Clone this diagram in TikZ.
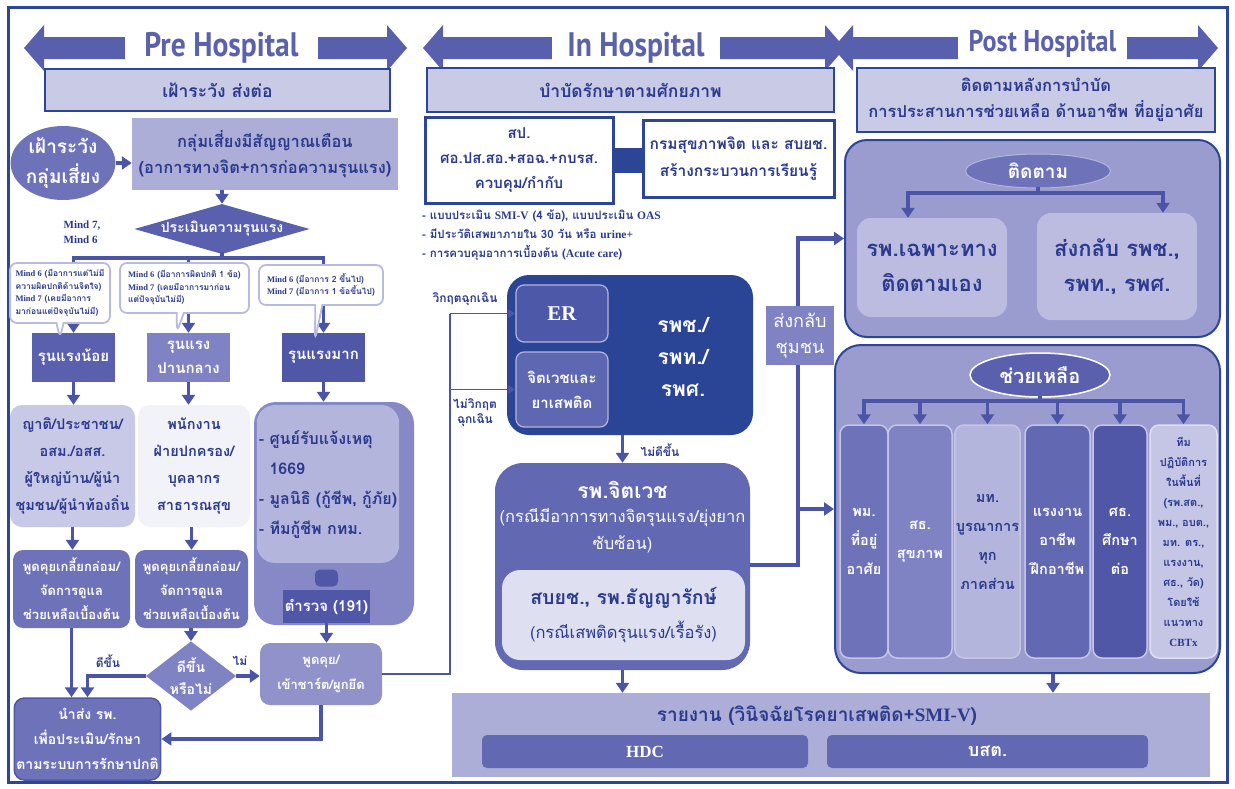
\documentclass[tikz,border=0pt]{standalone}
\usepackage{fontspec}
\setmainfont[Script=Thai]{Loma}
\newfontfamily\serifLat{Liberation Serif}
\newfontfamily\titlefont[FakeStretch=0.87]{PT Sans}
\usetikzlibrary{shapes.geometric, shapes.callouts, arrows.meta, positioning}
\newcommand\latw[1]{{\serifLat\bfseries #1}}

\definecolor{navy}{HTML}{2C4597}
\definecolor{navyDk}{HTML}{2A4496}
\definecolor{arrBlue}{HTML}{4B55A7}
\definecolor{hdrBlue}{HTML}{5860AD}
\definecolor{titleBlue}{HTML}{5C62AA}
\definecolor{txtNavy}{HTML}{2B3A8E}
\definecolor{barLav}{HTML}{C9CAE6}
\definecolor{lavA}{HTML}{ADAED7}
\definecolor{lavB}{HTML}{C8C9E6}
\definecolor{lavC}{HTML}{B4B5DC}
\definecolor{lavD}{HTML}{BBBCE0}
\definecolor{lavE}{HTML}{C5C6E5}
\definecolor{paleLav}{HTML}{F2F2F9}
\definecolor{paleB}{HTML}{DEDFF1}
\definecolor{purpA}{HTML}{5A60AE}
\definecolor{purpA2}{HTML}{6268B1}
\definecolor{purpB}{HTML}{8083C3}
\definecolor{purpC}{HTML}{6E72B8}
\definecolor{purpD}{HTML}{5057A6}
\definecolor{purpE}{HTML}{8788C6}
\definecolor{purpF}{HTML}{9192CA}
\definecolor{postLav}{HTML}{9A9BCE}
\definecolor{bubLav}{HTML}{B9BADF}
\definecolor{erBlue}{HTML}{4D58A8}
\definecolor{psyBlue}{HTML}{5E67B1}

\tikzset{
    box/.style={rectangle, align=center, inner sep=2pt},
    rbox/.style={box, rounded corners=8pt},
    title/.style={fill=white, text=titleBlue, inner sep=0pt, font=\titlefont\bfseries\fontsize{34}{34}\selectfont},
    bar/.style={box, draw=navy, line width=2pt, fill=barLav, text=txtNavy, font=\bfseries\fontsize{17.5}{26}\selectfont},
    arr/.style={line width=3.5pt, draw=arrBlue, -{Triangle[length=10pt,width=13pt]}},
    thinarr/.style={line width=1.8pt, draw=arrBlue, -{Triangle[length=7pt,width=8pt]}},
    thinln/.style={line width=1.8pt, draw=arrBlue},
    trunk/.style={line width=3.5pt, draw=arrBlue, line cap=rect},
    lbl/.style={text=txtNavy, inner sep=1pt, align=center, font=\bfseries\fontsize{12}{15}\selectfont},
    bubble/.style={rectangle callout, rounded corners=7pt, draw=bubLav, line width=1.8pt, fill=white,
        align=left, text=txtNavy, inner sep=2pt, font=\bfseries\fontsize{8.5}{12.5}\selectfont},
    col/.style={rbox, rounded corners=9pt, draw=lavE, line width=1.5pt, minimum height=233pt, inner sep=1pt,
        font=\bfseries\fontsize{14.5}{29}\selectfont}
}

\begin{document}
\begin{tikzpicture}[x=1pt, y=-1pt]
    \useasboundingbox (0,0) rectangle (1235,788);
    \draw[navy, line width=3pt] (8,7) rectangle (1227,782); % frame

    % header arrows and titles
    \foreach \a/\b in {24/407, 423/845, 833/1218}
        \fill[hdrBlue] (\a,48) -- (\a+20,25) -- (\a+20,37) -- (\b-20,37) -- (\b-20,25) -- (\b,48)
            -- (\b-20,71) -- (\b-20,59) -- (\a+20,59) -- (\a+20,71) -- cycle;
    \node[title, minimum width=193pt, minimum height=54pt, text depth=0pt] (tPre) at (221.5,44) {Pre Hospital};
    \node[title, minimum width=168pt, minimum height=54pt, text depth=0pt] (tIn) at (636,44) {In Hospital};
    \node[title, minimum width=169pt, minimum height=54pt, text depth=0pt,
        font=\titlefont\bfseries\fontsize{30}{30}\selectfont] (tPost) at (1042.5,41) {Post Hospital};

    \node[bar, minimum width=345pt, minimum height=42pt] (barPre) at (217.5,90) {เฝ้าระวัง ส่งต่อ};
    \node[bar, minimum width=407pt, minimum height=44pt] (barIn) at (630.5,90) {บำบัดรักษาตามศักยภาพ};
    \node[bar, minimum width=358pt, minimum height=64pt, font=\bfseries\fontsize{16.5}{26}\selectfont] (barPost) at (1036,100)
        {ติดตามหลังการบำบัด\\การประสานการช่วยเหลือ ด้านอาชีพ ที่อยู่อาศัย};

    % ---------------- Pre Hospital ----------------
    \node[ellipse, fill=purpC, text=white, minimum width=100pt, minimum height=74pt, inner sep=0pt, align=center,
        font=\bfseries\fontsize{19}{30}\selectfont] (ellRisk) at (63,163) {เฝ้าระวัง\\กลุ่มเสี่ยง};
    \node[box, fill=lavA, text=txtNavy, minimum width=266pt, minimum height=72pt,
        font=\bfseries\fontsize{16.5}{26}\selectfont] (boxWarn) at (265,154) {กลุ่มเสี่ยงมีสัญญาณเตือน\\(อาการทางจิต+การก่อความรุนแรง)};
    \draw[arr] (ellRisk.east) -- (ellRisk.east -| boxWarn.west);

    \node[diamond, aspect=3.5, fill=purpA, text=white, minimum width=170pt, minimum height=48pt, inner sep=0pt,
        font=\bfseries\fontsize{14}{18}\selectfont] (diaSev) at (222,229) {ประเมินความรุนแรง};
    \draw[arr] (diaSev.north |- boxWarn.south) -- (diaSev.north);
    \node[lbl, align=left, font=\serifLat\bfseries\fontsize{11}{15}\selectfont] (lblMind) at (82,232) {Mind 7,\\Mind 6};

    \node[box, fill=purpA, text=white, minimum width=83pt, minimum height=49pt,
        font=\bfseries\fontsize{15}{24}\selectfont] (sevLow) at (73.5,357.5) {รุนแรงน้อย};
    \node[box, fill=purpB, text=white, minimum width=83pt, minimum height=49pt,
        font=\bfseries\fontsize{15}{24}\selectfont] (sevMid) at (188.5,357.5) {รุนแรง\\ปานกลาง};
    \node[box, fill=purpD, text=white, minimum width=83pt, minimum height=49pt,
        font=\bfseries\fontsize{15}{24}\selectfont] (sevHigh) at (323.5,357.5) {รุนแรงมาก};

    \coordinate (brSev) at (222,258);
    \draw[trunk] (diaSev.south) -- (brSev);
    \draw[trunk] (sevLow.north |- brSev) -- (sevHigh.north |- brSev);
    \foreach \s in {sevLow, sevMid, sevHigh}
        \draw[arr] (\s.north |- brSev) -- (\s.north);

    % callouts over the arrows
    \node[bubble, minimum width=100pt, minimum height=60pt, callout absolute pointer={(60,338)}] (bubLow) at (60,293)
        {\latw{Mind 6} (มีอาการแต่ไม่มี\\ความผิดปกติด้านจิตใจ)\\\latw{Mind 7} (เคยมีอาการ\\มาก่อนแต่ปัจจุบันไม่มี)};
    \node[bubble, minimum width=129pt, minimum height=50pt, callout absolute pointer={(177,332)}] (bubMid) at (184.5,288)
        {\latw{Mind 6} (มีอาการผิดปกติ 1 ข้อ)\\\latw{Mind 7} (เคยมีอาการมาก่อน\\แต่ปัจจุบันไม่มี)};
    \node[bubble, minimum width=124pt, minimum height=40pt, callout absolute pointer={(315,340)}] (bubHigh) at (321,285)
        {\latw{Mind 6} (มีอาการ 2 ขึ้นไป)\\\latw{Mind 7} (มีอาการ 1 ข้อขึ้นไป)};

    \node[rbox, rounded corners=12pt, fill=lavB, text=txtNavy, minimum width=125pt, minimum height=122pt,
        font=\bfseries\fontsize{14.5}{27}\selectfont] (grpFam) at (72.5,466) {ญาติ/ประชาชน/\\อสม./อสส.\\ผู้ใหญ่บ้าน/ผู้นำ\\ชุมชน/ผู้นำท้องถิ่น};
    \node[rbox, rounded corners=12pt, fill=paleLav, text=txtNavy, minimum width=112pt, minimum height=122pt,
        font=\bfseries\fontsize{14.5}{27}\selectfont] (grpStaff) at (194,466) {พนักงาน\\ฝ่ายปกครอง/\\บุคลากร\\สาธารณสุข};
    \node[rbox, rounded corners=22pt, fill=purpE, minimum width=160pt, minimum height=223pt] (rescue) at (334,513.5) {};
    \node[rbox, rounded corners=18pt, fill=lavC, text=txtNavy, minimum width=140pt, minimum height=158pt, align=left,
        font=\bfseries\fontsize{16}{30}\selectfont] (rescueIn) at (328,484) {- ศูนย์รับแจ้งเหตุ\\\phantom{- }1669\\- มูลนิธิ (กู้ชีพ, กู้ภัย)\\- ทีมกู้ชีพ กทม.};
    \node[rbox, rounded corners=5pt, fill=purpD, minimum width=23pt, minimum height=17pt] (plug) at (326.5,578) {};
    \node[box, fill=purpD, text=white, minimum width=87pt, minimum height=33pt,
        font=\bfseries\fontsize{15}{18}\selectfont] (police) at (326.5,606.5) {ตำรวจ (191)};

    \draw[arr] (sevLow.south) -- (sevLow.south |- grpFam.north);
    \draw[arr] (sevMid.south) -- (sevMid.south |- grpStaff.north);
    \draw[arr] (sevHigh.south) -- (sevHigh.south |- rescue.north);

    \node[rbox, rounded corners=10pt, fill=purpC, text=white, minimum width=117pt, minimum height=78pt,
        font=\bfseries\fontsize{13}{24}\selectfont] (talkFam) at (71.5,589) {พูดคุยเกลี้ยกล่อม/\\จัดการดูแล\\ช่วยเหลือเบื้องต้น};
    \node[rbox, rounded corners=10pt, fill=purpC, text=white, minimum width=113pt, minimum height=78pt,
        font=\bfseries\fontsize{13}{24}\selectfont] (talkStaff) at (191.5,589) {พูดคุยเกลี้ยกล่อม/\\จัดการดูแล\\ช่วยเหลือเบื้องต้น};
    \draw[arr] (grpFam.south) -- (grpFam.south |- talkFam.north);
    \draw[arr] (talkStaff.north |- grpStaff.south) -- (talkStaff.north);

    \node[diamond, aspect=1.3, fill=purpB, text=white, minimum width=88pt, minimum height=67pt, inner sep=0pt, align=center,
        font=\bfseries\fontsize{14}{22}\selectfont] (diaBetter) at (191,676) {ดีขึ้น\\หรือไม่};
    \draw[arr] (diaBetter.north |- talkStaff.south) -- (diaBetter.north);
    \node[rbox, rounded corners=10pt, fill=purpF, text=white, minimum width=122pt, minimum height=62pt,
        font=\bfseries\fontsize{13}{25}\selectfont] (restrain) at (321,674) {พูดคุย/\\เข้าชาร์ต/ผูกยึด};
    \draw[arr] (police.south) -- (police.south |- restrain.north);
    \node[rbox, rounded corners=10pt, fill=purpC, draw=purpD, line width=1.5pt, text=white, minimum width=145pt, minimum height=82pt,
        font=\bfseries\fontsize{14}{25}\selectfont] (refer) at (87.5,739) {นำส่ง รพ.\\เพื่อประเมิน/รักษา\\ตามระบบการรักษาปกติ};

    \draw[arr] (talkFam.south) -- (talkFam.south |- refer.north);
    \draw[arr] (diaBetter.west) -| (refer.north);
    \draw[arr] (diaBetter.east) -- (restrain.west |- diaBetter.east);
    \draw[arr] (restrain.south) |- (refer.east);
    \node[lbl] (lblYes) at (108,661) {ดีขึ้น};
    \node[lbl] (lblNo) at (240,661) {ไม่};

    % ---------------- In Hospital ----------------
    \node[box, draw=navy, line width=3pt, fill=white, text=txtNavy, minimum width=188pt, minimum height=86pt,
        font=\bfseries\fontsize{15}{25}\selectfont] (boxMoph) at (519,160) {สป.\\ศอ.ปส.สอ.+สอฉ.+กบรส.\\ควบคุม/กำกับ};
    \node[box, draw=navy, line width=3pt, fill=white, text=txtNavy, minimum width=191pt, minimum height=77pt,
        font=\bfseries\fontsize{15.5}{27}\selectfont] (boxDmh) at (738.5,158.5) {กรมสุขภาพจิต และ สบยช.\\สร้างกระบวนการเรียนรู้};
    \draw[navy, line width=25pt] (boxMoph.east) -- (boxMoph.east -| boxDmh.west);
    \node[lbl, anchor=north west, align=left, font=\bfseries\fontsize{11.5}{19}\selectfont] (notes) at (421,209)
        {- แบบประเมิน \latw{SMI-V} (4 ข้อ), แบบประเมิน \latw{OAS}\\- มีประวัติเสพยาภายใน 30 วัน หรือ \latw{urine+}\\- การควบคุมอาการเบื้องต้น (\latw{Acute care})};

    \node[rbox, rounded corners=22pt, fill=navyDk, minimum width=246pt, minimum height=160pt] (hospGrp) at (630,355) {};
    \node[rbox, fill=erBlue, draw=lavC, line width=1.2pt, minimum width=92pt, minimum height=57pt, text=white,
        font=\serifLat\bfseries\fontsize{21}{21}\selectfont] (er) at (562,313.5) {ER};
    \node[rbox, fill=psyBlue, draw=lavC, line width=1.2pt, minimum width=92pt, minimum height=75pt, text=white,
        font=\bfseries\fontsize{15}{25}\selectfont] (psyDrug) at (562,389.5) {จิตเวชและ\\ยาเสพติด};
    \node[text=white, align=center, font=\bfseries\fontsize{21}{32}\selectfont] (hospLbl) at (683,357) {รพช./\\รพท./\\รพศ.};

    \coordinate (vtop) at (450,313.5);
    \draw[thinln] (restrain.east) -| (vtop);
    \draw[thinarr] (vtop) -- (er.west);
    \draw[thinarr] (vtop |- psyDrug.west) -- (psyDrug.west);
    \node[lbl] (lblCrit) at (465,299) {วิกฤตฉุกเฉิน};
    \node[lbl] (lblNonCrit) at (475,413) {ไม่วิกฤต\\ฉุกเฉิน};

    \node[rbox, rounded corners=28pt, fill=purpA2, minimum width=255pt, minimum height=207pt] (psyHosp) at (622.5,566.5) {};
    \node[text=white, font=\bfseries\fontsize{21}{24}\selectfont] (psyTitle) at (622.5,490) {รพ.จิตเวช};
    \node[text=white, align=center, font=\fontsize{16.5}{27}\selectfont] (psySub) at (622.5,531) {(กรณีมีอาการทางจิตรุนแรง/ยุ่งยาก\\ซับซ้อน)};
    \node[rbox, rounded corners=18pt, fill=paleB, text=txtNavy, minimum width=243pt, minimum height=90pt,
        font=\fontsize{16.5}{34}\selectfont] (psyInner) at (623.5,615) {{\bfseries\fontsize{19.5}{22}\selectfont สบยช., รพ.ธัญญารักษ์}\\(กรณีเสพติดรุนแรง/เรื้อรัง)};
    \draw[arr] (psyHosp.north |- hospGrp.south) -- (psyHosp.north);
    \node[lbl] (lblWorse) at (660,450) {ไม่ดีขึ้น};

    \node[box, fill=lavA, minimum width=758pt, minimum height=84pt] (report) at (831,735) {};
    \node[text=txtNavy, font=\bfseries\fontsize{19}{22}\selectfont] (reportTitle) at (817,716) {รายงาน (วินิจฉัยโรคยาเสพติด+\latw{SMI-V})};
    \node[rbox, rounded corners=5pt, fill=purpA2, text=white, minimum width=326pt, minimum height=33pt,
        font=\serifLat\bfseries\fontsize{17}{18}\selectfont] (hdc) at (645,751.5) {HDC};
    \node[rbox, rounded corners=5pt, fill=purpA2, text=white, minimum width=321pt, minimum height=33pt,
        font=\bfseries\fontsize{18}{18}\selectfont] (bsot) at (987.5,751.5) {บสต.};
    \draw[arr] (psyHosp.south) -- (psyHosp.south |- report.north);

    % ---------------- Post Hospital ----------------
    \node[rbox, rounded corners=22pt, fill=postLav, draw=navy, line width=2pt, minimum width=375pt, minimum height=197pt] (follow) at (1032.5,238.5) {};
    \node[ellipse, fill=purpC, draw=lavC, line width=1pt, minimum width=145pt, minimum height=34pt, inner sep=0pt, text=white,
        font=\bfseries\fontsize{19}{20}\selectfont] (ellFollow) at (1038,171) {ติดตาม};
    \node[rbox, rounded corners=14pt, fill=lavD, text=txtNavy, minimum width=150pt, minimum height=99pt,
        font=\bfseries\fontsize{22}{35}\selectfont] (spec) at (932,267.5) {รพ.เฉพาะทาง\\ติดตามเอง};
    \node[rbox, rounded corners=14pt, fill=lavD, text=txtNavy, minimum width=160pt, minimum height=107pt,
        font=\bfseries\fontsize{22}{35}\selectfont] (sendBack) at (1117,266.5) {ส่งกลับ รพช.,\\รพท., รพศ.};
    \coordinate (fkF) at (1038,193);
    \coordinate (fkL) at (908,193);
    \coordinate (fkR) at (1163,193);
    \draw[trunk] (ellFollow.south) -- (fkF);
    \draw[trunk] (fkL) -- (fkR);
    \draw[arr] (fkL) -- (fkL |- spec.north);
    \draw[arr] (fkR) -- (fkR |- sendBack.north);

    \node[rbox, rounded corners=26pt, fill=postLav, draw=navy, line width=2pt, minimum width=385pt, minimum height=328pt] (help) at (1027.5,509) {};
    \node[ellipse, fill=purpA, draw=white, line width=1.5pt, minimum width=140pt, minimum height=44pt, inner sep=0pt, text=white,
        font=\bfseries\fontsize{20}{22}\selectfont] (ellHelp) at (1040,375) {ช่วยเหลือ};
    \node[col, fill=purpC, text=white, minimum width=48pt] (colA) at (864,541.5) {พม.\\ที่อยู่\\อาศัย};
    \node[col, fill=purpB, text=white, minimum width=64pt] (colB) at (920,541.5) {สธ.\\สุขภาพ};
    \node[col, fill=lavC, text=txtNavy, minimum width=65pt] (colC) at (987.5,541.5) {มท.\\บูรณาการ\\ทุก\\ภาคส่วน};
    \node[col, fill=purpA2, text=white, minimum width=65pt] (colD) at (1057.5,541.5) {แรงงาน\\อาชีพ\\ฝึกอาชีพ};
    \node[col, fill=purpD, text=white, minimum width=54pt] (colE) at (1120,541.5) {ศธ.\\ศึกษา\\ต่อ};
    \node[col, fill=lavE, draw=paleB, text=txtNavy, minimum width=67pt, font=\bfseries\fontsize{11}{20}\selectfont] (colF) at (1183.5,541.5)
        {ทีม\\ปฏิบัติการ\\ในพื้นที่\\(รพ.สต.,\\พม., อบต.,\\มท. ตร.,\\แรงงาน,\\ศธ., วัด)\\โดยใช้\\แนวทาง\\\latw{CBTx}};
    \coordinate (fkH) at (1040,401);
    \draw[trunk] (ellHelp.south) -- (fkH);
    \draw[trunk] (colA.north |- fkH) -- (colF.north |- fkH);
    \foreach \c in {colA, colB, colC, colD, colE, colF}
        \draw[arr] (\c.north |- fkH) -- (\c.north);
    \draw[arr] (1053,0 |- help.south) -- (1053,0 |- report.north);

    % back to community
    \coordinate (backJ) at (798,565);
    \draw[arr, line width=4.5pt] (psyHosp.east |- backJ) -| (backJ |- follow.west) -- (follow.west);
    \draw[arr, line width=4.5pt] (backJ |- help.west) -- (help.west);
    \node[box, fill=purpB, text=white, minimum width=68pt, minimum height=59pt,
        font=\fontsize{18}{26}\selectfont] (backLbl) at (800,335.5) {ส่งกลับ\\ชุมชน};
\end{tikzpicture}
\end{document}
